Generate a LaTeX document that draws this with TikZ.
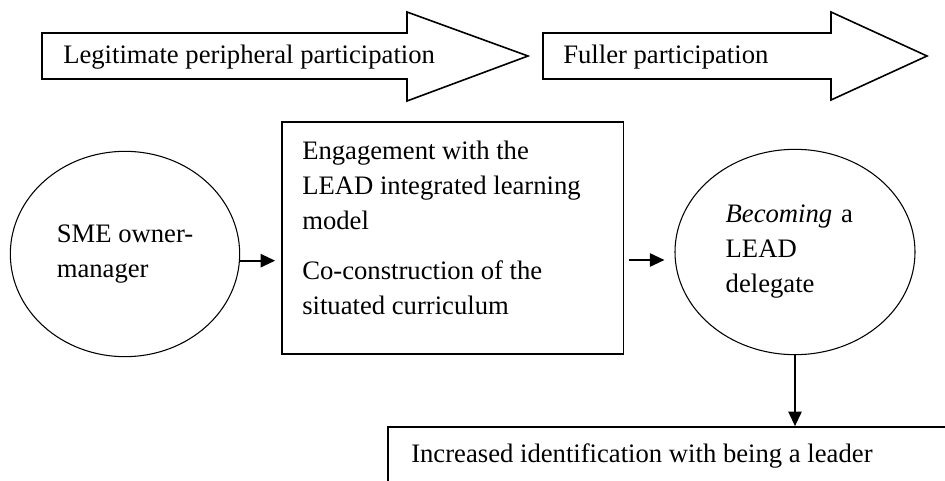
\documentclass[tikz,border=0pt]{standalone}
\usepackage{fontspec}
\setmainfont{Liberation Serif}
\usetikzlibrary{shapes.geometric, arrows.meta}

\begin{document}
\begin{tikzpicture}[
	x = 0.75pt, y = -0.75pt,
	font = \fontsize{20}{26.25}\selectfont,
	blockarrow/.style = {draw, line width = 1.2pt, fill = white, line join = miter},
	txt/.style = {inner sep = 0pt, anchor = base west, align = left},
	bubble/.style = {draw, ellipse, line width = 0.8pt, inner sep = 0pt, align = left},
	box/.style = {draw, rectangle, line width = 1pt, inner sep = 0pt},
	conn/.style = {line width = 1.4pt, -{Triangle[length = 11pt, width = 10pt]}}]
	\useasboundingbox (0,0) rectangle (945,481);
	\clip (0,0) rectangle (945,481);

	% stage arrows
	\draw[blockarrow] (42,33) -- (407,33) -- (407,12) -- (528,56) -- (407,101) -- (407,79) -- (42,79) -- cycle;
	\draw[blockarrow] (543,33) -- (831,33) -- (831,12) -- (927,56) -- (831,100) -- (831,79) -- (543,79) -- cycle;
	\node[txt] (lpp) at (63,64) {Legitimate peripheral participation};
	\node[txt] (fuller) at (563,64) {Fuller participation};

	% process
	\node[bubble, minimum width = 172pt, minimum height = 154pt] (sme) at (125,254) {SME owner-\\manager};
	\node[box, minimum width = 256pt, minimum height = 174pt] (learn) at (452.5,238) {};
	\node[txt] (learntxt) at (302,314) {Engagement with the\\LEAD integrated learning\\model\\[11.25pt]Co-construction of the\\situated curriculum};
	\node[bubble, minimum width = 180pt, minimum height = 154pt, text width = 104pt] (bec) at (795,252) {\textit{Becoming} a\\LEAD\\delegate};
	\node[box, minimum width = 460pt, minimum height = 70pt] (lead) at (694.5,473.5) {};
	\node[txt] (leadtxt) at (411,462) {Increased identification with being a leader};

	% Connectors
	\draw[conn, shorten >= 4.5pt] ([yshift = -5pt]sme.east) -- ([yshift = -5pt]sme.east -| learn.west);
	\draw[conn, shorten <= 3.6pt, shorten >= 7.5pt] ([yshift = -16.5pt]learn.east) -- ([yshift = -16.5pt]learn.east -| bec.west);
	\draw[conn] (bec.south) -- (bec.south |- lead.north);
\end{tikzpicture}
\end{document}
